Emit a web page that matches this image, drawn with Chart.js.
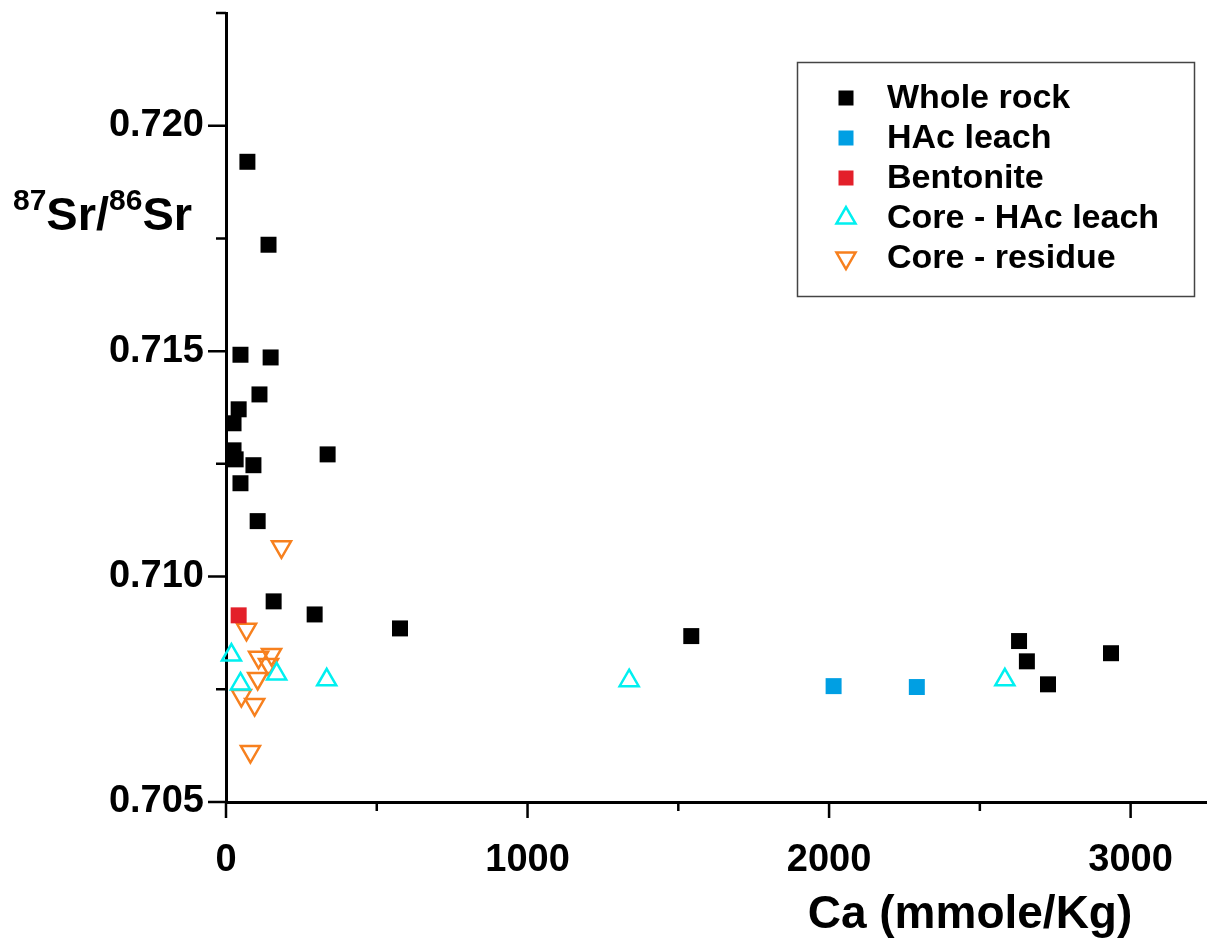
<!DOCTYPE html>
<html>
<head>
<meta charset="utf-8">
<title>87Sr/86Sr vs Ca</title>
<script src="https://cdn.jsdelivr.net/npm/chart.js@4.4.1/dist/chart.umd.min.js"></script>
<style>
    html, body { margin: 0; padding: 0; background: #fff; overflow: hidden; }
    #chartSr { display: block; }
</style>
</head>
<body>
<canvas id="chartSr" width="1208" height="943"></canvas>
<script>
// Datos
const wholeRockCa = [71, 141, 48, 148, 111, 42, 25, 25, 32, 91, 337, 48, 105, 158, 294, 577, 1543, 2630, 2656, 2726, 2935];
const wholeRockSr = [0.71920, 0.71736, 0.71492, 0.71486, 0.71404, 0.71371, 0.71340, 0.71280, 0.71260, 0.71247, 0.71271,
    0.71207, 0.71123, 0.70945, 0.70916, 0.70885, 0.70868, 0.70857, 0.70812, 0.70761, 0.70830];

const hacLeachCa = [2015, 2291];
const hacLeachSr = [0.70757, 0.70755];

const bentoniteCa = [42];
const bentoniteSr = [0.70914];

const coreLeachCa = [18, 48, 168, 334, 1337, 2583];
const coreLeachSr = [0.70826, 0.70762, 0.70784, 0.70771, 0.70769, 0.70771];

const coreResidueCa = [184, 68, 108, 151, 141, 105, 51, 95, 81];
const coreResidueSr = [0.71066, 0.70883, 0.70821, 0.70827, 0.70805, 0.70774, 0.70736, 0.70716, 0.70612];

// Etiquetas y marcas de los ejes
const xTickLabels = [0, 1000, 2000, 3000];
const yTickLabels = [0.705, 0.710, 0.715, 0.720];
const xTickValues = [0, 500, 1000, 1500, 2000, 2500, 3000];
const yTickValues = [0.705, 0.7075, 0.710, 0.7125, 0.715, 0.7175, 0.720, 0.7225];

const FONT = '"Liberation Sans", Arial, Helvetica, sans-serif';

const toPoints = (xs, ys) => xs.map((x, i) => ({ x: x, y: ys[i] }));
const isMajorX = (v) => Math.abs(v % 1000) < 1e-6;
const isMajorY = (v) => Math.abs(v * 200 - Math.round(v * 200)) < 1e-6;

// Marcas de los ejes (mayores y menores)
const tickMarks = {
    id: 'tickMarks',
    beforeDatasetsDraw(chart) {
        const { ctx, scales: { x, y } } = chart;
        ctx.save();
        ctx.strokeStyle = '#000';
        ctx.lineWidth = 2.5;
        ctx.beginPath();
        xTickValues.forEach((v) => {
            const px = x.getPixelForValue(v);
            ctx.moveTo(px, y.bottom);
            ctx.lineTo(px, y.bottom + (isMajorX(v) ? 16 : 9));
        });
        yTickValues.forEach((v) => {
            const py = y.getPixelForValue(v);
            ctx.moveTo(x.left, py);
            ctx.lineTo(x.left - (isMajorY(v) ? 18 : 10), py);
        });
        ctx.stroke();
        ctx.restore();
    }
};

// Títulos de los ejes (con superíndices)
const axisTitles = {
    id: 'axisTitles',
    afterDraw(chart) {
        const ctx = chart.ctx;
        ctx.save();
        ctx.fillStyle = '#000';
        ctx.textBaseline = 'alphabetic';

        const big = `bold 47px ${FONT}`;
        const sup = `bold 30px ${FONT}`;
        const parts = [['87', sup, -20], ['Sr/', big, 0], ['86', sup, -20], ['Sr', big, 0]];
        let tx = 13;
        parts.forEach(([txt, font, dy]) => {
            ctx.font = font;
            ctx.textAlign = 'left';
            ctx.fillText(txt, tx, 230 + dy);
            tx += ctx.measureText(txt).width;
        });

        ctx.font = `bold 46px ${FONT}`;
        ctx.textAlign = 'center';
        ctx.fillText('Ca (mmole/Kg)', 970, 928);
        ctx.restore();
    }
};

// Leyenda con recuadro
const legendBox = {
    id: 'legendBox',
    afterDraw(chart) {
        const ctx = chart.ctx;
        ctx.save();
        ctx.strokeStyle = '#444';
        ctx.lineWidth = 1.5;
        ctx.strokeRect(797.5, 62.5, 397, 234);
        ctx.font = `bold 34px ${FONT}`;
        ctx.textBaseline = 'middle';
        ctx.textAlign = 'left';
        chart.data.datasets.forEach((ds, i) => {
            const cx = 846;
            const cy = 98 + i * 40;
            if (ds.pointStyle === 'rect') {
                ctx.fillStyle = ds.backgroundColor;
                ctx.fillRect(cx - 7.5, cy - 7.5, 15, 15);
            } else {
                const r = 11;
                const rot = (ds.pointRotation || 0) * Math.PI / 180;
                ctx.beginPath();
                for (let k = 0; k < 3; k++) {
                    const a = rot + k * 2 * Math.PI / 3;
                    const px = cx + Math.sin(a) * r;
                    const py = cy - Math.cos(a) * r;
                    if (k === 0) ctx.moveTo(px, py); else ctx.lineTo(px, py);
                }
                ctx.closePath();
                ctx.strokeStyle = ds.borderColor;
                ctx.lineWidth = ds.borderWidth;
                ctx.stroke();
            }
            ctx.fillStyle = '#000';
            ctx.fillText(ds.label, 887, cy + 1);
        });
        ctx.restore();
    }
};

document.addEventListener('DOMContentLoaded', () => {
    const ctx = document.getElementById('chartSr').getContext('2d');
    new Chart(ctx, {
        type: 'scatter',
        data: {
            datasets: [
                {
                    label: 'Whole rock',
                    data: toPoints(wholeRockCa, wholeRockSr),
                    pointStyle: 'rect', pointRadius: 11.3, borderWidth: 0,
                    backgroundColor: '#000', borderColor: '#000'
                },
                {
                    label: 'HAc leach',
                    data: toPoints(hacLeachCa, hacLeachSr),
                    pointStyle: 'rect', pointRadius: 11.3, borderWidth: 0,
                    backgroundColor: '#009fe3', borderColor: '#009fe3'
                },
                {
                    label: 'Bentonite',
                    data: toPoints(bentoniteCa, bentoniteSr),
                    pointStyle: 'rect', pointRadius: 11.3, borderWidth: 0,
                    backgroundColor: '#e3202a', borderColor: '#e3202a'
                },
                {
                    label: 'Core - HAc leach',
                    data: toPoints(coreLeachCa, coreLeachSr),
                    pointStyle: 'triangle', pointRadius: 11, borderWidth: 2.5,
                    backgroundColor: 'rgba(0,0,0,0)', borderColor: '#00f0f0'
                },
                {
                    label: 'Core - residue',
                    data: toPoints(coreResidueCa, coreResidueSr),
                    pointStyle: 'triangle', pointRotation: 180, pointRadius: 11, borderWidth: 2.5,
                    backgroundColor: 'rgba(0,0,0,0)', borderColor: '#f7801e'
                }
            ]
        },
        options: {
            responsive: false,
            animation: false,
            events: [],
            clip: false,
            // autoPadding reservaba ~12 px a la derecha por el radio de los puntos
            layout: { autoPadding: false, padding: { top: 13, right: 2, left: 0, bottom: 0 } },
            plugins: { legend: { display: false }, tooltip: { enabled: false } },
            scales: {
                x: {
                    type: 'linear', min: 0, max: 3250,
                    grid: { drawOnChartArea: false, drawTicks: false },
                    border: { color: '#000', width: 3 },
                    ticks: {
                        autoSkip: false, maxRotation: 0,
                        padding: 36, color: '#000',
                        font: { family: FONT, size: 38, weight: 'bold' },
                        callback: (v) => String(v)
                    },
                    afterBuildTicks: (s) => { s.ticks = xTickLabels.map((v) => ({ value: v })); },
                    afterFit: (s) => {
                        s.height = 141;
                        s.paddingLeft = 0;
                        s.paddingRight = 0;
                    }
                },
                y: {
                    type: 'linear', min: 0.705, max: 0.7225,
                    grid: { drawOnChartArea: false, drawTicks: false },
                    border: { color: '#000', width: 3 },
                    ticks: {
                        autoSkip: false,
                        padding: 22, color: '#000',
                        font: { family: FONT, size: 38, weight: 'bold' },
                        callback: (v) => v.toFixed(3)
                    },
                    afterBuildTicks: (s) => { s.ticks = yTickLabels.map((v) => ({ value: v })); },
                    afterFit: (s) => {
                        s.width = 226;
                        s.paddingTop = 0;
                        s.paddingBottom = 0;
                    }
                }
            }
        },
        plugins: [tickMarks, axisTitles, legendBox]
    });
});
</script>
</body>
</html>
